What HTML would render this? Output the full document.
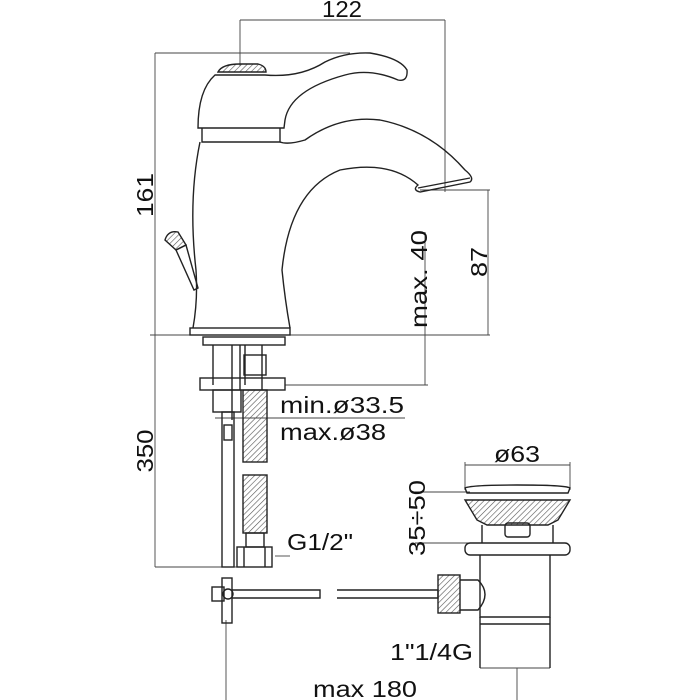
<!DOCTYPE html>
<html><head><meta charset="utf-8"><style>
html,body{margin:0;padding:0;background:#fff;width:700px;height:700px;overflow:hidden}
svg{display:block}
text{font-family:"Liberation Sans",sans-serif;fill:#111}
</style></head><body>
<svg width="700" height="700" viewBox="0 0 700 700" xmlns="http://www.w3.org/2000/svg">
<defs>
<pattern id="hatch" width="4" height="4" patternUnits="userSpaceOnUse" patternTransform="rotate(45)">
<line x1="0" y1="0" x2="0" y2="4" stroke="#555" stroke-width="1.2"/></pattern>
</defs>
<g fill="none" stroke="#222" stroke-width="1.4">
<g stroke="#444" stroke-width="0.9">
<line x1="240" y1="20" x2="445" y2="20"/>
<line x1="240" y1="20" x2="240" y2="66"/>
<line x1="445" y1="20" x2="445" y2="192"/>
<line x1="155" y1="53" x2="350" y2="53"/>
<line x1="155" y1="53" x2="155" y2="567"/>
<line x1="150" y1="335" x2="490" y2="335"/>
<line x1="420" y1="190" x2="490" y2="190"/>
<line x1="488" y1="190" x2="488" y2="335"/>
<line x1="425" y1="232" x2="425" y2="385"/>
<line x1="285" y1="385" x2="428" y2="385"/>
<line x1="215" y1="418" x2="405" y2="418"/>
<line x1="155" y1="567" x2="240" y2="567"/>
<line x1="275" y1="556" x2="290" y2="556"/>
<line x1="465" y1="465" x2="570" y2="465"/>
<line x1="465" y1="462" x2="465" y2="490"/>
<line x1="570" y1="462" x2="570" y2="490"/>
<line x1="415" y1="492" x2="470" y2="492"/>
<line x1="415" y1="543" x2="470" y2="543"/>
<line x1="480" y1="668" x2="550" y2="668"/>
<line x1="226" y1="620" x2="226" y2="700"/>
<line x1="517" y1="668" x2="517" y2="700"/>
</g>
<path d="M218 72 Q222 64 240 64 L258 64 Q266 66 266 72 Z" fill="url(#hatch)"/>
<path d="M215 75 L265 75 Q300 78 325 62 Q345 52 370 53 Q400 58 407 70 Q408 82 398 80 Q370 68 345 75 Q290 90 285 120 L284 128 L198 128 Q198 90 215 75 Z"/>
<path d="M202 128 L202 142 L280 142 L280 128"/>
<path d="M200 142 Q188 200 196 270 Q198 300 193 328"/>
<path d="M280 142 Q288 145 305 140 Q340 115 380 120 Q430 130 465 170 Q475 178 470 182 L420 192 Q412 190 418 185 Q390 160 340 170 Q290 190 282 270 Q285 300 290 328"/>
<path d="M418 188 L470 178"/>
<rect x="190" y="328" width="100" height="7"/>
<path d="M165 240 Q168 230 178 232 L186 245 L176 250 Z" fill="url(#hatch)"/>
<path d="M176 250 L186 245 L198 288 L194 290 Z"/>
<rect x="203" y="337" width="82" height="8"/>
<path d="M213 345 L213 385 M240 345 L240 390 M245 345 L245 385 M262 345 L262 390 M232 345 L232 420"/>
<rect x="244" y="355" width="22" height="20"/>
<rect x="200" y="378" width="85" height="12"/>
<rect x="213" y="390" width="28" height="22"/>
<rect x="222" y="412" width="12" height="155"/>
<rect x="224" y="425" width="8" height="15"/>
<rect x="243" y="390" width="24" height="72" fill="url(#hatch)"/>
<rect x="243" y="475" width="24" height="58" fill="url(#hatch)"/>
<rect x="246" y="533" width="18" height="14"/>
<rect x="237" y="547" width="35" height="20"/>
<path d="M244 547 L244 567 M265 547 L265 567"/>
<rect x="212" y="587" width="12" height="14"/>
<circle cx="228" cy="594" r="5"/>
<rect x="222" y="578" width="10" height="45"/>
<path d="M232 590 L320 590 L320 598 L232 598"/>
<path d="M337 590 L438 590 L438 598 L337 598"/>
<rect x="438" y="575" width="22" height="38" fill="url(#hatch)"/>
<path d="M460 580 L478 580 Q492 594 478 610 L460 610"/>
<path d="M465 488 Q470 485 517 485 Q565 485 570 488 L568 493 L467 493 Z"/>
<path d="M465 500 L570 500 L558 520 L548 525 L487 525 L477 520 Z" fill="url(#hatch)"/>
<path d="M482 525 L482 543 M553 525 L553 543"/>
<rect x="505" y="523" width="25" height="14" rx="3"/>
<rect x="465" y="543" width="105" height="12" rx="5"/>
<path d="M480 555 L480 617 L550 617 L550 555"/>
<path d="M480 617 L480 668 M550 617 L550 668 M480 624 L550 624"/>
</g>
<g font-size="23">
<text x="342" y="17" text-anchor="middle" textLength="40" lengthAdjust="spacingAndGlyphs">122</text>
<text transform="translate(153,195) rotate(-90)" text-anchor="middle" textLength="44" lengthAdjust="spacingAndGlyphs">161</text>
<text transform="translate(487,262) rotate(-90)" text-anchor="middle" textLength="30" lengthAdjust="spacingAndGlyphs">87</text>
<text transform="translate(427,279) rotate(-90)" text-anchor="middle" textLength="98" lengthAdjust="spacingAndGlyphs">max. 40</text>
<text transform="translate(153,451) rotate(-90)" text-anchor="middle" textLength="43" lengthAdjust="spacingAndGlyphs">350</text>
<text x="280" y="413" textLength="124" lengthAdjust="spacingAndGlyphs">min.ø33.5</text>
<text x="280" y="440" textLength="106" lengthAdjust="spacingAndGlyphs">max.ø38</text>
<text x="287" y="550" textLength="66" lengthAdjust="spacingAndGlyphs">G1/2"</text>
<text x="494" y="462" textLength="46" lengthAdjust="spacingAndGlyphs">ø63</text>
<text transform="translate(425,518) rotate(-90)" text-anchor="middle" textLength="76" lengthAdjust="spacingAndGlyphs">35÷50</text>
<text x="390" y="660" textLength="83" lengthAdjust="spacingAndGlyphs">1"1/4G</text>
<text x="313" y="697" textLength="104" lengthAdjust="spacingAndGlyphs">max 180</text>
</g>
</svg>
</body></html>
